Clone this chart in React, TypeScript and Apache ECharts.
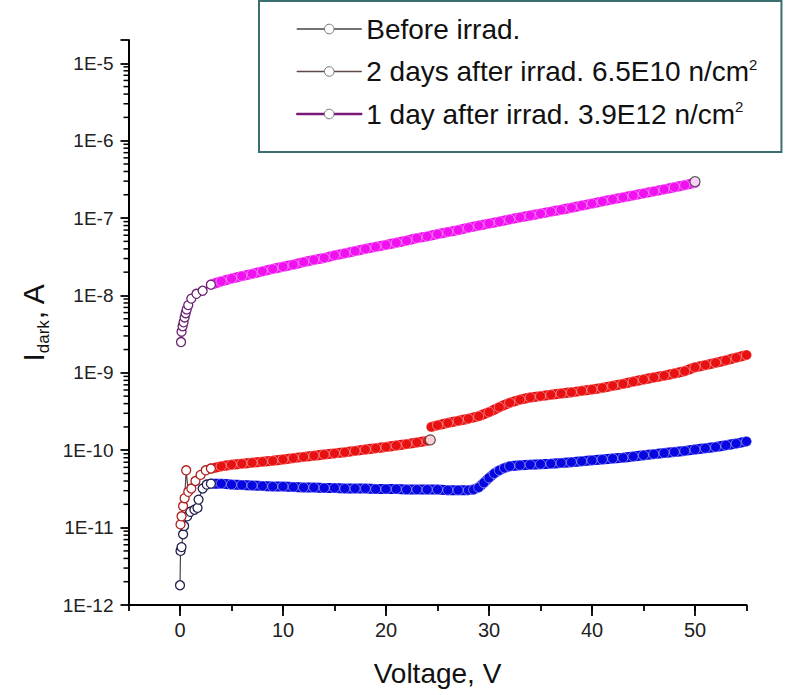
import React, { useEffect, useRef } from 'react';
import * as echarts from 'echarts';

// ---------- Data ----------
const SERIES_NAMES = [
  'Before irrad.',
  '2 days after irrad. 6.5E10 n/cm²',
  '1 day after irrad. 3.9E12 n/cm²',
];

const Y_TICK_LABELS = ['1E-12', '1E-11', '1E-10', '1E-9', '1E-8', '1E-7', '1E-6', '1E-5'];
const X_TICK_LABELS = [0, 10, 20, 30, 40, 50];
const MINOR_MULTIPLIERS = [2, 3, 4, 5, 6, 7, 8, 9];

// Before irradiation (blue)
const BEFORE_ONSET: [number, number][] = [
  [0, 1.8e-12], [0.05, 5.0e-12], [0.15, 5.6e-12], [0.3, 8.2e-12], [0.4, 1.05e-11],
  [0.7, 1.4e-11], [1.0, 1.6e-11], [1.4, 1.7e-11], [1.7, 1.8e-11], [1.8, 2.3e-11],
  [2.2, 3.2e-11], [2.6, 3.6e-11], [3, 3.7e-11],
];
const BEFORE_BAND: [number, number][] = [
  [3, 3.7e-11], [4, 3.7e-11], [5, 3.6e-11], [6, 3.55e-11], [7, 3.5e-11], [8, 3.45e-11],
  [9, 3.4e-11], [10, 3.4e-11], [11, 3.35e-11], [12, 3.3e-11], [13, 3.3e-11], [14, 3.25e-11],
  [15, 3.25e-11], [16, 3.2e-11], [17, 3.2e-11], [18, 3.2e-11], [19, 3.15e-11], [20, 3.15e-11],
  [21, 3.15e-11], [22, 3.1e-11], [23, 3.1e-11], [24, 3.1e-11], [25, 3.1e-11], [26, 3.05e-11],
  [27, 3.05e-11], [28, 3.05e-11], [28.5, 3.1e-11], [29, 3.3e-11], [29.5, 3.8e-11], [30, 4.4e-11],
  [30.5, 5.0e-11], [31, 5.5e-11], [31.5, 5.9e-11], [32, 6.2e-11], [33, 6.4e-11], [34, 6.5e-11],
  [35, 6.6e-11], [36, 6.7e-11], [37, 6.85e-11], [38, 7.0e-11], [39, 7.2e-11], [40, 7.4e-11],
  [41, 7.6e-11], [42, 7.8e-11], [43, 8.0e-11], [44, 8.3e-11], [45, 8.6e-11], [46, 8.9e-11],
  [47, 9.2e-11], [48, 9.5e-11], [49, 9.8e-11], [50, 1.02e-10], [51, 1.06e-10], [52, 1.1e-10],
  [53, 1.16e-10], [54, 1.22e-10], [55, 1.3e-10],
];

// 2 days after irradiation (red)
const AFTER2_ONSET: [number, number][] = [
  [0.05, 1.1e-11], [0.15, 1.4e-11], [0.3, 1.9e-11], [0.45, 2.4e-11], [0.6, 5.5e-11],
  [0.8, 2.9e-11], [1.1, 3.2e-11], [1.5, 4.0e-11], [2.0, 4.8e-11], [2.5, 5.5e-11], [3, 5.8e-11],
];
const AFTER2_BAND_LOW: [number, number][] = [
  [3, 5.8e-11], [4, 6.2e-11], [5, 6.5e-11], [6, 6.7e-11], [7, 6.9e-11], [8, 7.1e-11],
  [9, 7.3e-11], [10, 7.6e-11], [11, 7.9e-11], [12, 8.2e-11], [13, 8.5e-11], [14, 8.8e-11],
  [15, 9.1e-11], [16, 9.4e-11], [17, 9.8e-11], [18, 1.02e-10], [19, 1.06e-10], [20, 1.1e-10],
  [21, 1.15e-10], [22, 1.2e-10], [23, 1.26e-10], [24, 1.32e-10], [24.3, 1.36e-10],
];
const AFTER2_BAND_HIGH: [number, number][] = [
  [24.4, 2.0e-10], [25, 2.1e-10], [26, 2.25e-10], [27, 2.4e-10], [28, 2.55e-10], [29, 2.75e-10],
  [30, 3.1e-10], [31, 3.6e-10], [32, 4.1e-10], [33, 4.5e-10], [34, 4.8e-10], [35, 5.0e-10],
  [36, 5.2e-10], [37, 5.4e-10], [38, 5.6e-10], [39, 5.85e-10], [40, 6.1e-10], [41, 6.4e-10],
  [42, 6.8e-10], [43, 7.2e-10], [44, 7.7e-10], [45, 8.2e-10], [46, 8.7e-10], [47, 9.2e-10],
  [48, 9.8e-10], [49, 1.05e-9], [50, 1.18e-9], [51, 1.26e-9], [52, 1.35e-9], [53, 1.45e-9],
  [54, 1.57e-9], [55, 1.7e-9],
];
const AFTER2_MARKS: [number, number][] = [[24.3, 1.36e-10]];

// 1 day after irradiation (magenta)
const AFTER1_ONSET: [number, number][] = [
  [0.1, 2.5e-9], [0.15, 3.4e-9], [0.25, 4.0e-9], [0.35, 4.5e-9], [0.45, 5.2e-9],
  [0.55, 5.9e-9], [0.65, 6.6e-9], [0.8, 7.5e-9], [1.1, 9.1e-9], [1.6, 1.05e-8],
  [2.2, 1.15e-8], [3, 1.38e-8],
];
const AFTER1_BAND: [number, number][] = [
  [3, 1.38e-8], [4, 1.52e-8], [5, 1.65e-8], [6, 1.78e-8], [7, 1.9e-8], [8, 2.05e-8],
  [9, 2.2e-8], [10, 2.35e-8], [11, 2.5e-8], [12, 2.7e-8], [13, 2.88e-8], [14, 3.05e-8],
  [15, 3.3e-8], [16, 3.5e-8], [17, 3.75e-8], [18, 4.0e-8], [19, 4.25e-8], [20, 4.5e-8],
  [21, 4.8e-8], [22, 5.1e-8], [23, 5.5e-8], [24, 5.8e-8], [25, 6.2e-8], [26, 6.6e-8],
  [27, 7.0e-8], [28, 7.5e-8], [29, 8.0e-8], [30, 8.5e-8], [31, 9.0e-8], [32, 9.6e-8],
  [33, 1.02e-7], [34, 1.08e-7], [35, 1.14e-7], [36, 1.21e-7], [37, 1.28e-7], [38, 1.36e-7],
  [39, 1.45e-7], [40, 1.54e-7], [41, 1.64e-7], [42, 1.74e-7], [43, 1.85e-7], [44, 1.96e-7],
  [45, 2.08e-7], [46, 2.21e-7], [47, 2.35e-7], [48, 2.5e-7], [49, 2.66e-7], [50, 2.85e-7],
];
const AFTER1_MARKS: [number, number][] = [[50, 2.95e-7]];

// ---------- Styling ----------
const BAND_COLORS = ['#0606e0', '#e81010', '#f010f0'];
const ONSET_EDGE = ['#202050', '#b02020', '#6a2070'];
const LEGEND_LINE = ['#454545', '#5e4848', '#7a1878'];
const LEGEND_CIRCLE = ['#777777', '#777777', '#777777'];
const FONT = 'Liberation Sans, Arial, Helvetica, sans-serif';
const X_MIN = -5;
const X_MAX = 55;
const Y_MIN = 1e-12;
const Y_MAX = 2e-5;

export default function App() {
  const ref = useRef<HTMLDivElement>(null);

  useEffect(() => {
    if (!ref.current) return;
    const chart = echarts.init(ref.current, undefined, { renderer: 'svg' });

    const bandSeries = (name: string, data: [number, number][], i: number) => ({
      name,
      type: 'line',
      data,
      symbol: 'circle',
      symbolSize: 10,
      itemStyle: { color: BAND_COLORS[i], borderColor: 'rgba(255,255,255,0.55)', borderWidth: 0.8 },
      lineStyle: { color: BAND_COLORS[i], width: 10, cap: 'round', join: 'round' },
      z: 2,
      silent: true,
    });
    const onsetSeries = (name: string, data: [number, number][], i: number) => ({
      name,
      type: 'line',
      data,
      symbol: 'circle',
      symbolSize: 9,
      itemStyle: { color: '#ffffff', borderColor: ONSET_EDGE[i], borderWidth: 1.3 },
      lineStyle: { color: LEGEND_LINE[i], width: 1.2 },
      z: 3,
      silent: true,
    });
    const markSeries = (data: [number, number][]) => ({
      type: 'scatter',
      data,
      symbol: 'circle',
      symbolSize: 10,
      itemStyle: { color: '#ffffff', borderColor: '#333', borderWidth: 1.2 },
      z: 4,
      silent: true,
    });

    const option = {
      animation: false,
      grid: { left: 128.5, right: 40.5, top: 40, bottom: 90 },
      legend: {
        orient: 'vertical',
        left: 259,
        top: 1,
        padding: [14, 24, 24, 37],
        backgroundColor: '#ffffff',
        borderColor: '#3a6e70',
        borderWidth: 2,
        itemWidth: 64,
        itemHeight: 12,
        itemGap: 13.5,
        selectedMode: false,
        data: SERIES_NAMES.map((n, i) => ({
          name: n,
          itemStyle: { color: '#ffffff', borderColor: LEGEND_CIRCLE[i], borderWidth: 1 },
          lineStyle: { color: LEGEND_LINE[i], width: i === 2 ? 2.5 : 1.5 },
        })),
        formatter: (name: string) =>
          name.indexOf('²') >= 0 ? `{t|${name.replace('²', '')}}{sup|2}` : `{t|${name}}`,
        textStyle: {
          color: '#111',
          fontSize: 28,
          fontFamily: FONT,
          rich: {
            t: { fontSize: 28, lineHeight: 30, fontFamily: FONT, color: '#111' },
            sup: { fontSize: 15, lineHeight: 15, verticalAlign: 'top', fontFamily: FONT, color: '#111' },
          },
        },
      },
      xAxis: {
        type: 'value',
        min: X_MIN,
        max: X_MAX,
        interval: 5,
        axisLine: { show: true, onZero: false, lineStyle: { color: '#000', width: 2 } },
        axisTick: { show: true, length: 6, lineStyle: { color: '#000', width: 1.8 } },
        axisLabel: {
          margin: 15,
          fontSize: 20,
          color: '#222',
          fontFamily: FONT,
          formatter: (v: number) => (X_TICK_LABELS.indexOf(v) >= 0 ? String(v) : ''),
        },
        splitLine: { show: false },
        name: 'Voltage, V',
        nameLocation: 'middle',
        nameGap: 54,
        nameTextStyle: { fontSize: 28, color: '#111', fontFamily: FONT },
      },
      yAxis: {
        type: 'log',
        min: Y_MIN,
        max: Y_MAX,
        axisLine: { show: true, onZero: false, lineStyle: { color: '#000', width: 2 } },
        axisTick: { show: true, length: 8, lineStyle: { color: '#000', width: 1.8 } },
        axisLabel: {
          margin: 15,
          fontSize: 19,
          color: '#222',
          fontFamily: FONT,
          formatter: (v: number) => {
            const e = Math.log10(v);
            const r = Math.round(e);
            if (Math.abs(e - r) > 1e-6) return '';
            const s = Y_TICK_LABELS[r + 12];
            return s === undefined ? '' : s;
          },
        },
        splitLine: { show: false },
        name: '{i|I}{sub|dark}{i|, A}',
        nameLocation: 'middle',
        nameRotate: 90,
        nameGap: 76,
        nameTextStyle: {
          fontFamily: FONT,
          rich: {
            i: { fontSize: 30, lineHeight: 36, color: '#111', fontFamily: FONT },
            sub: { fontSize: 17, lineHeight: 17, verticalAlign: 'bottom', color: '#111', fontFamily: FONT },
          },
        },
      },
      series: [
        bandSeries(SERIES_NAMES[0], BEFORE_BAND, 0),
        bandSeries(SERIES_NAMES[1], AFTER2_BAND_LOW, 1),
        bandSeries(SERIES_NAMES[1], AFTER2_BAND_HIGH, 1),
        bandSeries(SERIES_NAMES[2], AFTER1_BAND, 2),
        onsetSeries(SERIES_NAMES[0], BEFORE_ONSET, 0),
        onsetSeries(SERIES_NAMES[1], AFTER2_ONSET, 1),
        onsetSeries(SERIES_NAMES[2], AFTER1_ONSET, 2),
        markSeries(AFTER2_MARKS),
        markSeries(AFTER1_MARKS),
      ],
    };

    chart.setOption(option as any);

    // Logarithmic minor ticks on the y axis and long ticks at labelled x values,
    // placed through the chart's own scales.
    const lines: any[] = [];
    for (let e = -12; e <= -6; e++) {
      for (const m of MINOR_MULTIPLIERS) {
        const p = chart.convertToPixel({ gridIndex: 0 }, [X_MIN, m * Math.pow(10, e)]) as number[];
        lines.push({
          type: 'line',
          z: 6,
          silent: true,
          shape: { x1: p[0] - 5, y1: p[1], x2: p[0], y2: p[1] },
          style: { stroke: '#000', lineWidth: 1.5 },
        });
      }
    }
    for (const v of X_TICK_LABELS) {
      const p = chart.convertToPixel({ gridIndex: 0 }, [v, Y_MIN]) as number[];
      lines.push({
        type: 'line',
        z: 6,
        silent: true,
        shape: { x1: p[0], y1: p[1], x2: p[0], y2: p[1] + 11 },
        style: { stroke: '#000', lineWidth: 1.8 },
      });
    }
    chart.setOption({ graphic: lines } as any);

    return () => chart.dispose();
  }, []);

  return <div ref={ref} style={{ position: 'fixed', left: 0, top: 0, width: 787, height: 695, background: '#fff' }} />;
}
